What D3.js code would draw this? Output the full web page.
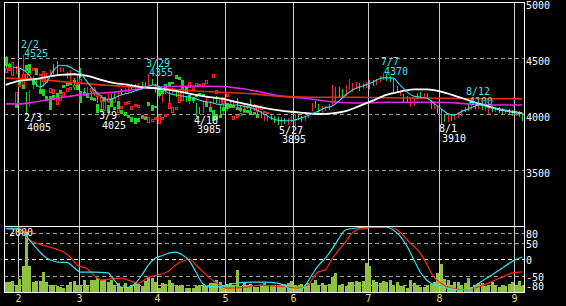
<!DOCTYPE html>
<html>
<head>
<meta charset="utf-8">
<script src="https://cdn.jsdelivr.net/npm/d3@7"></script>
<style>
  body { margin: 0; background: #000; }
  svg { display: block; }
  text { font-family: "DejaVu Sans Mono", monospace; font-size: 10px; }
</style>
</head>
<body>
<div id="chart-area"></div>
<script>
const WIDTH = 566, HEIGHT = 306;
const PLOT = { LEFT: 4, RIGHT: 524, TOP: 2, MID: 226, BOTTOM: 292 };

// daily candles [open, high, low, close], late Jan .. early Sep
const ohlc = [
  // Jan
  [4505,4515,4415,4425],[4445,4455,4400,4410],[4365,4420,4355,4410],[4380,4430,4370,4420],
  // Feb
  [4395,4405,4325,4335],[4335,4525,4240,4460],[4180,4195,4005,4055],[4090,4210,4075,4195],
  [4245,4335,4230,4320],[4290,4310,4250,4260],[4290,4300,4215,4225],[4260,4365,4250,4355],
  [4310,4365,4300,4355],[4350,4390,4340,4380],[4440,4450,4365,4385],[4450,4475,4360,4370],
  [4385,4420,4380,4410],[4385,4415,4380,4410],[4340,4375,4320,4355],[4290,4395,4285,4385],
  [4315,4325,4225,4260],[4275,4340,4265,4330],
  // Mar
  [4400,4410,4330,4345],[4225,4235,4170,4180],[4190,4240,4180,4230],[4225,4235,4150,4160],
  [4180,4240,4170,4225],[4165,4175,4110,4120],[4160,4170,4025,4040],[4080,4155,4070,4145],
  [4120,4180,4110,4170],[4170,4180,4115,4125],[4190,4200,4120,4130],[4140,4205,4130,4195],
  [4210,4220,4175,4180],[4195,4235,4190,4230],[4210,4250,4200,4240],[4260,4265,4230,4235],
  [4230,4265,4225,4255],[4235,4275,4225,4265],[4280,4285,4245,4250],[4285,4290,4250,4255],
  [4275,4355,4270,4310],[4300,4310,4265,4275],[4260,4270,4200,4215],
  // Apr
  [4165,4200,4150,4190],[4140,4200,4120,4185],[4195,4240,4185,4230],[4205,4215,4090,4100],
  [4190,4230,4180,4220],[4200,4215,4160,4170],[4180,4190,4135,4145],[4150,4185,4140,4175],
  [4150,4160,4115,4125],[4110,4160,4100,4150],[4145,4155,4110,4115],[4085,4095,3985,4010],
  [4045,4060,4010,4020],[4025,4120,4015,4115],[4110,4150,4105,4140],[4060,4120,4050,4110],
  [4100,4150,4095,4140],[4150,4160,4110,4120],[4080,4090,3995,4005],[4010,4115,4000,4100],
  // May
  [4045,4085,4035,4075],[4080,4120,4075,4110],[4090,4125,4080,4120],[4130,4145,4050,4060],
  [4060,4075,4030,4040],[4040,4085,4030,4075],[4060,4100,4050,4090],[4120,4135,4030,4045],
  [4050,4090,4040,4080],[4040,4050,3990,4000],[4020,4030,3975,3985],[3955,3990,3950,3985],
  [3955,3990,3950,3985],[3990,3995,3955,3960],[3972,3980,3925,3930],[3965,3970,3910,3915],
  [3920,3975,3895,3970],[3960,3965,3920,3930],[3925,3965,3915,3955],[3945,3980,3935,3970],
  // Jun
  [3915,4000,3905,3990],[3990,3995,3955,3960],[3975,3980,3940,3945],[3950,3980,3945,3975],
  [3975,4005,3970,4000],[4045,4100,4040,4095],[4105,4120,4065,4075],[4080,4090,4015,4025],
  [4010,4070,4000,4060],[4040,4075,4035,4065],[4075,4085,4045,4050],[4100,4255,4090,4225],
  [4120,4240,4110,4230],[4225,4245,4150,4160],[4215,4225,4165,4175],[4180,4255,4170,4245],
  [4235,4315,4225,4290],[4210,4275,4205,4250],[4245,4285,4240,4275],[4265,4275,4215,4225],
  [4240,4275,4235,4270],[4245,4285,4240,4275],
  // Jul
  [4285,4300,4230,4240],[4290,4300,4255,4265],[4270,4315,4265,4305],[4310,4335,4295,4325],
  [4325,4370,4315,4355],[4345,4355,4300,4310],[4330,4335,4295,4300],[4300,4310,4205,4215],
  [4240,4250,4195,4200],[4180,4215,4170,4210],[4170,4180,4110,4120],[4150,4160,4105,4115],
  [4080,4150,4070,4140],[4090,4165,4080,4155],[4175,4190,4140,4150],[4185,4200,4150,4160],
  [4150,4185,4145,4180],[4180,4190,4140,4150],[4110,4125,4050,4060],[4055,4085,4050,4080],
  [4060,4070,4010,4020],
  // Aug
  [4040,4045,3910,3935],[3990,4000,3940,3950],[3950,3995,3940,3985],[3990,4000,3950,3960],
  [3965,4000,3955,3990],[3980,4020,3975,4010],[4005,4045,3995,4035],[4060,4065,4025,4030],
  [4095,4100,4035,4045],[4050,4085,4045,4075],[4085,4090,4050,4055],[4055,4085,4050,4080],
  [4080,4085,4045,4050],[4045,4080,4040,4075],[4015,4075,4005,4065],[4065,4070,4030,4035],
  [4035,4065,4030,4060],[4055,4060,4020,4025],[4045,4050,4010,4015],[4010,4035,4005,4030],
  [4040,4045,4005,4010],[4030,4035,3995,4000],
  // Sep
  [4000,4025,3995,4015],[4020,4025,3985,3990],[3995,4005,3950,3960]
];

// volume per day
const volume = [
  345,345,378,233,444,867,2010,867,345,367,367,678,333,233,233,200,178,122,233,322,
  367,233,233,400,233,400,400,455,400,400,345,400,233,289,178,311,178,233,289,267,
  200,367,489,455,345,122,289,267,400,311,233,200,233,122,122,122,200,233,200,200,
  311,289,400,345,233,267,289,233,733,200,289,233,267,178,178,233,289,233,233,233,
  200,233,267,289,367,233,200,267,233,311,289,400,233,311,233,267,489,622,233,267,
  200,345,345,367,345,367,955,867,400,345,289,378,345,400,233,345,200,200,122,400,
  289,233,178,178,233,255,345,622,933,422,400,233,345,345,233,289,455,178,233,289,
  311,200,233,345,200,178,233,200,267,345,233,367,200
];

// moving averages, [day index, price]
const maShort = [
  [2,4420],[4,4410],[6,4375],[8,4305],[10,4240],[12,4285],[14,4385],[16,4435],[18,4430],
  [20,4400],[22,4365],[24,4285],[26,4215],[28,4160],[30,4125],[32,4145],[34,4170],[36,4185],
  [38,4205],[40,4225],[42,4250],[44,4260],[46,4225],[48,4185],[50,4170],[52,4160],[54,4150],
  [56,4135],[58,4115],[60,4105],[62,4090],[64,4080],[66,4080],[68,4080],[70,4070],[72,4055],
  [74,4035],[76,4000],[78,3965],[80,3945],[82,3940],[84,3940],[86,3955],[88,3975],[90,4000],
  [92,4025],[94,4055],[96,4070],[98,4115],[100,4170],[102,4215],[104,4240],[106,4260],
  [108,4285],[110,4315],[112,4325],[114,4320],[116,4260],[118,4200],[120,4160],[122,4150],
  [124,4140],[126,4095],[128,4050],[130,4005],[132,3990],[134,4020],[136,4045],[138,4070],
  [140,4080],[142,4060],[144,4050],[146,4035],[148,4025],[150,4015],[152,4005]
];
const maMid = [
  [0,4260],[4,4295],[8,4310],[12,4330],[16,4350],[20,4355],[24,4340],[28,4305],[32,4275],
  [36,4260],[40,4240],[44,4230],[48,4215],[52,4195],[56,4170],[60,4150],[64,4135],[68,4105],
  [72,4080],[76,4055],[80,4035],[84,4020],[88,4010],[92,4000],[96,4005],[100,4025],[104,4070],
  [108,4120],[112,4170],[116,4200],[120,4220],[124,4220],[128,4200],[132,4165],[136,4125],
  [140,4085],[144,4050],[148,4025],[152,4005]
];
const maLong = [
  [0,4320],[8,4312],[18,4285],[28,4260],[38,4240],[48,4225],[56,4205],[64,4193],[72,4182],
  [80,4160],[90,4150],[104,4150],[112,4145],[128,4140],[152,4135]
];
const maXLong = [
  [0,4090],[4,4090],[8,4105],[16,4145],[24,4180],[32,4195],[40,4225],[48,4245],[56,4250],
  [64,4245],[68,4232],[72,4215],[76,4190],[80,4165],[88,4140],[96,4110],[104,4098],
  [112,4105],[120,4105],[128,4105],[136,4090],[144,4080],[152,4080]
];

// oscillators, [day index, value]
const oscCyan = [
  [0,91],[4,91],[6,70],[8,45],[10,22],[12,3],[14,-6],[16,-10],[18,-10],[20,-25],[22,-40],
  [26,-40],[30,-42],[32,-65],[34,-85],[36,-86],[38,-75],[40,-50],[42,-18],[44,2],[46,10],
  [48,18],[50,21],[52,12],[54,-5],[56,-40],[58,-75],[60,-85],[62,-85],[64,-82],[66,-76],
  [68,-73],[72,-70],[76,-70],[80,-73],[82,-80],[84,-92],[86,-93],[88,-82],[90,-50],[92,-20],
  [94,2],[96,30],[98,62],[100,88],[104,95],[108,97],[112,97],[114,88],[116,70],[118,40],
  [120,0],[122,-40],[124,-65],[126,-78],[128,-84],[130,-88],[133,-94],[136,-94],[138,-82],
  [140,-68],[142,-55],[144,-42],[146,-28],[148,-14],[150,-2],[152,6]
];
const oscRed = [
  [0,94],[5,94],[6,67],[8,52],[11,42],[14,33],[17,21],[19,6],[21,-18],[24,-30],[27,-58],
  [28,-64],[31,-60],[34,-58],[36,-64],[39,-73],[42,-55],[45,-48],[48,-36],[50,-18],[53,-3],
  [54,0],[56,-18],[59,-48],[62,-73],[65,-88],[71,-85],[75,-79],[79,-82],[83,-85],[86,-88],
  [89,-79],[90,-64],[92,-39],[94,-33],[96,0],[98,27],[100,52],[102,79],[104,91],[106,91],
  [107,97],[113,97],[116,82],[119,48],[122,18],[124,-18],[126,-55],[128,-73],[131,-88],
  [136,-94],[138,-88],[142,-73],[146,-55],[149,-42],[152,-39]
];

// first trading day of each month
const months = [
  { idx: 4, label: "2" }, { idx: 22, label: "3" }, { idx: 45, label: "4" }, { idx: 65, label: "5" },
  { idx: 85, label: "6" }, { idx: 107, label: "7" }, { idx: 128, label: "8" }, { idx: 150, label: "9" }
];
const priceTicks = [5000, 4500, 4000, 3500];
const oscTicks = [80, 50, 0, -50, -80];
const highMarks = [
  { idx: 5, date: "2/2", value: 4525 }, { idx: 42, date: "3/29", value: 4355 },
  { idx: 111, date: "7/7", value: 4370 }, { idx: 136, date: "8/12", value: 4100 }
];
const lowMarks = [
  { idx: 6, date: "2/3", value: 4005 }, { idx: 28, date: "3/9", value: 4025 },
  { idx: 56, date: "4/18", value: 3985 }, { idx: 81, date: "5/27", value: 3895 },
  { idx: 128, date: "8/1", value: 3910 }
];

const svg = d3.select("#chart-area").append("svg")
  .attr("width", WIDTH)
  .attr("height", HEIGHT)

svg.append("rect").attr("width", WIDTH).attr("height", HEIGHT).attr("fill", "#000");

const x = d3.scaleBand().domain(d3.range(ohlc.length)).range([PLOT.LEFT, PLOT.RIGHT]);
const cx = i => Math.round(x(i) + x.bandwidth() / 2);
const y = d3.scaleLinear().domain([3000, 5000]).range([PLOT.MID, PLOT.TOP]);
const yOsc = d3.scaleLinear().domain([-100, 100]).range([PLOT.BOTTOM, PLOT.MID]);
const yVol = d3.scaleLinear().domain([0, 2000]).range([PLOT.BOTTOM, 232]);
const px = v => Math.round(v) + 0.5;

// month grid lines
svg.append("g").selectAll("line")
  .data(months).enter().append("line")
  .attr("x1", d => px(x(d.idx))).attr("x2", d => px(x(d.idx)))
  .attr("y1", PLOT.TOP).attr("y2", PLOT.BOTTOM)
  .attr("stroke", "#c8c8c8")

// price grid
svg.append("g").selectAll("line")
  .data(priceTicks.filter(d => d < 5000)).enter().append("line")
  .attr("x1", PLOT.LEFT).attr("x2", PLOT.RIGHT)
  .attr("y1", d => px(y(d))).attr("y2", d => px(y(d)))
  .attr("stroke", "#999").attr("stroke-dasharray", "4,3")

// oscillator grid
svg.append("g").selectAll("line")
  .data(oscTicks).enter().append("line")
  .attr("x1", PLOT.LEFT).attr("x2", PLOT.RIGHT)
  .attr("y1", d => px(yOsc(d))).attr("y2", d => px(yOsc(d)))
  .attr("stroke", d => d === 0 ? "#fff" : "#999").attr("stroke-dasharray", "4,3")

// volume
svg.append("g").selectAll("rect")
  .data(volume).enter().append("rect")
  .attr("x", (d, i) => cx(i) - 1)
  .attr("width", 3)
  .attr("y", d => Math.round(yVol(d)))
  .attr("height", d => PLOT.BOTTOM - Math.round(yVol(d)))
  .attr("fill", "#8fc23f")

svg.append("text")
  .attr("x", 9).attr("y", 236)
  .attr("fill", "#fff")
  .text("2000");

const oscLine = d3.line()
  .x(d => x(d[0]) + x.bandwidth() / 2)
  .y(d => yOsc(d[1]))
  .curve(d3.curveMonotoneX);

svg.append("path").attr("d", oscLine(oscRed))
  .attr("fill", "none").attr("stroke", "#ff2a10").attr("stroke-width", 1.2)
svg.append("path").attr("d", oscLine(oscCyan))
  .attr("fill", "none").attr("stroke", "#2fe4f4").attr("stroke-width", 1.2)

// candles
const candles = svg.append("g").selectAll("g")
  .data(ohlc).enter().append("g");

candles.append("line")
  .attr("x1", (d, i) => cx(i) + 0.5).attr("x2", (d, i) => cx(i) + 0.5)
  .attr("y1", d => Math.round(y(d[1]))).attr("y2", d => Math.round(y(d[2])) + 1)
  .attr("stroke", d => d[3] >= d[0] ? "#ff2020" : "#22d322")

candles.filter(d => d[3] < d[0]).append("rect")
  .attr("x", (d, i) => cx(i) - 1)
  .attr("width", 3)
  .attr("y", d => Math.round(y(d[0])))
  .attr("height", d => Math.max(1, Math.round(y(d[3])) - Math.round(y(d[0]))))
  .attr("fill", "#22d322")

candles.filter(d => d[3] >= d[0]).append("rect")
  .attr("x", (d, i) => cx(i) - 0.5)
  .attr("width", 2)
  .attr("y", d => Math.round(y(d[3])) + 0.5)
  .attr("height", d => Math.max(0, Math.round(y(d[0])) - Math.round(y(d[3])) - 1))
  .attr("fill", "#000")
  .attr("stroke", "#ff2020")

// moving averages
const maLine = d3.line()
  .x(d => x(d[0]) + x.bandwidth() / 2)
  .y(d => y(d[1]))
  .curve(d3.curveMonotoneX);

svg.append("path").attr("d", maLine(maXLong))
  .attr("fill", "none").attr("stroke", "#e622e6").attr("stroke-width", 1.6)
svg.append("path").attr("d", maLine(maLong))
  .attr("fill", "none").attr("stroke", "#ee2a12").attr("stroke-width", 1.6)
svg.append("path").attr("d", maLine(maMid))
  .attr("fill", "none").attr("stroke", "#fff").attr("stroke-width", 1.8)
svg.append("path").attr("d", maLine(maShort))
  .attr("fill", "none").attr("stroke", "#36dcf0").attr("stroke-width", 1.1)

// frame
const frame = svg.append("g").attr("stroke", "#fff").attr("shape-rendering", "crispEdges");
frame.append("line").attr("x1", PLOT.LEFT).attr("x2", PLOT.RIGHT + 1).attr("y1", PLOT.TOP + 0.5).attr("y2", PLOT.TOP + 0.5);
frame.append("line").attr("x1", PLOT.LEFT).attr("x2", PLOT.RIGHT + 1).attr("y1", PLOT.MID + 0.5).attr("y2", PLOT.MID + 0.5);
frame.append("line").attr("x1", PLOT.LEFT).attr("x2", PLOT.RIGHT + 1).attr("y1", PLOT.BOTTOM + 0.5).attr("y2", PLOT.BOTTOM + 0.5);
frame.append("line").attr("x1", PLOT.LEFT + 0.5).attr("x2", PLOT.LEFT + 0.5).attr("y1", PLOT.TOP).attr("y2", PLOT.BOTTOM + 1);
frame.append("line").attr("x1", PLOT.RIGHT + 0.5).attr("x2", PLOT.RIGHT + 0.5).attr("y1", PLOT.TOP).attr("y2", PLOT.BOTTOM + 1);

// right axes
const priceAxis = svg.append("g")
  .attr("transform", `translate(${PLOT.RIGHT}, 0)`)
  .call(d3.axisRight(y).tickValues(priceTicks).tickSize(0).tickPadding(2).tickFormat(d => d));
const oscAxis = svg.append("g")
  .attr("transform", `translate(${PLOT.RIGHT}, 0)`)
  .call(d3.axisRight(yOsc).tickValues(oscTicks).tickSize(0).tickPadding(2).tickFormat(d => d < 0 ? "-" + (-d) : d));
[priceAxis, oscAxis].forEach(a => {
  a.select(".domain").remove();
  a.selectAll("text").attr("fill", "#fff").style("font-family", '"DejaVu Sans Mono", monospace').style("font-size", "10px");
});
priceAxis.selectAll("text").attr("dy", "0.6em");
oscAxis.selectAll("text").attr("dy", "0.45em");

// month labels
svg.append("g").selectAll("text")
  .data(months).enter().append("text")
  .attr("x", d => px(x(d.idx)))
  .attr("y", 302)
  .attr("text-anchor", "middle")
  .attr("fill", "#e8dc78")
  .text(d => d.label);

// high / low annotations
const hi = svg.append("g").attr("fill", "#3fe2f0");
highMarks.forEach(d => {
  const yy = y(d.value);
  hi.append("text").attr("x", cx(d.idx) - 2).attr("y", yy - 7.5).text(d.date);
  hi.append("text").attr("x", cx(d.idx) + 1).attr("y", yy + 2).text(d.value);
});
const lo = svg.append("g").attr("fill", "#fff");
lowMarks.forEach(d => {
  const yy = y(d.value);
  lo.append("text").attr("x", cx(d.idx) - 2).attr("y", yy + 8).text(d.date);
  lo.append("text").attr("x", cx(d.idx) + 1).attr("y", yy + 17.5).text(d.value);
});
</script>
</body>
</html>
